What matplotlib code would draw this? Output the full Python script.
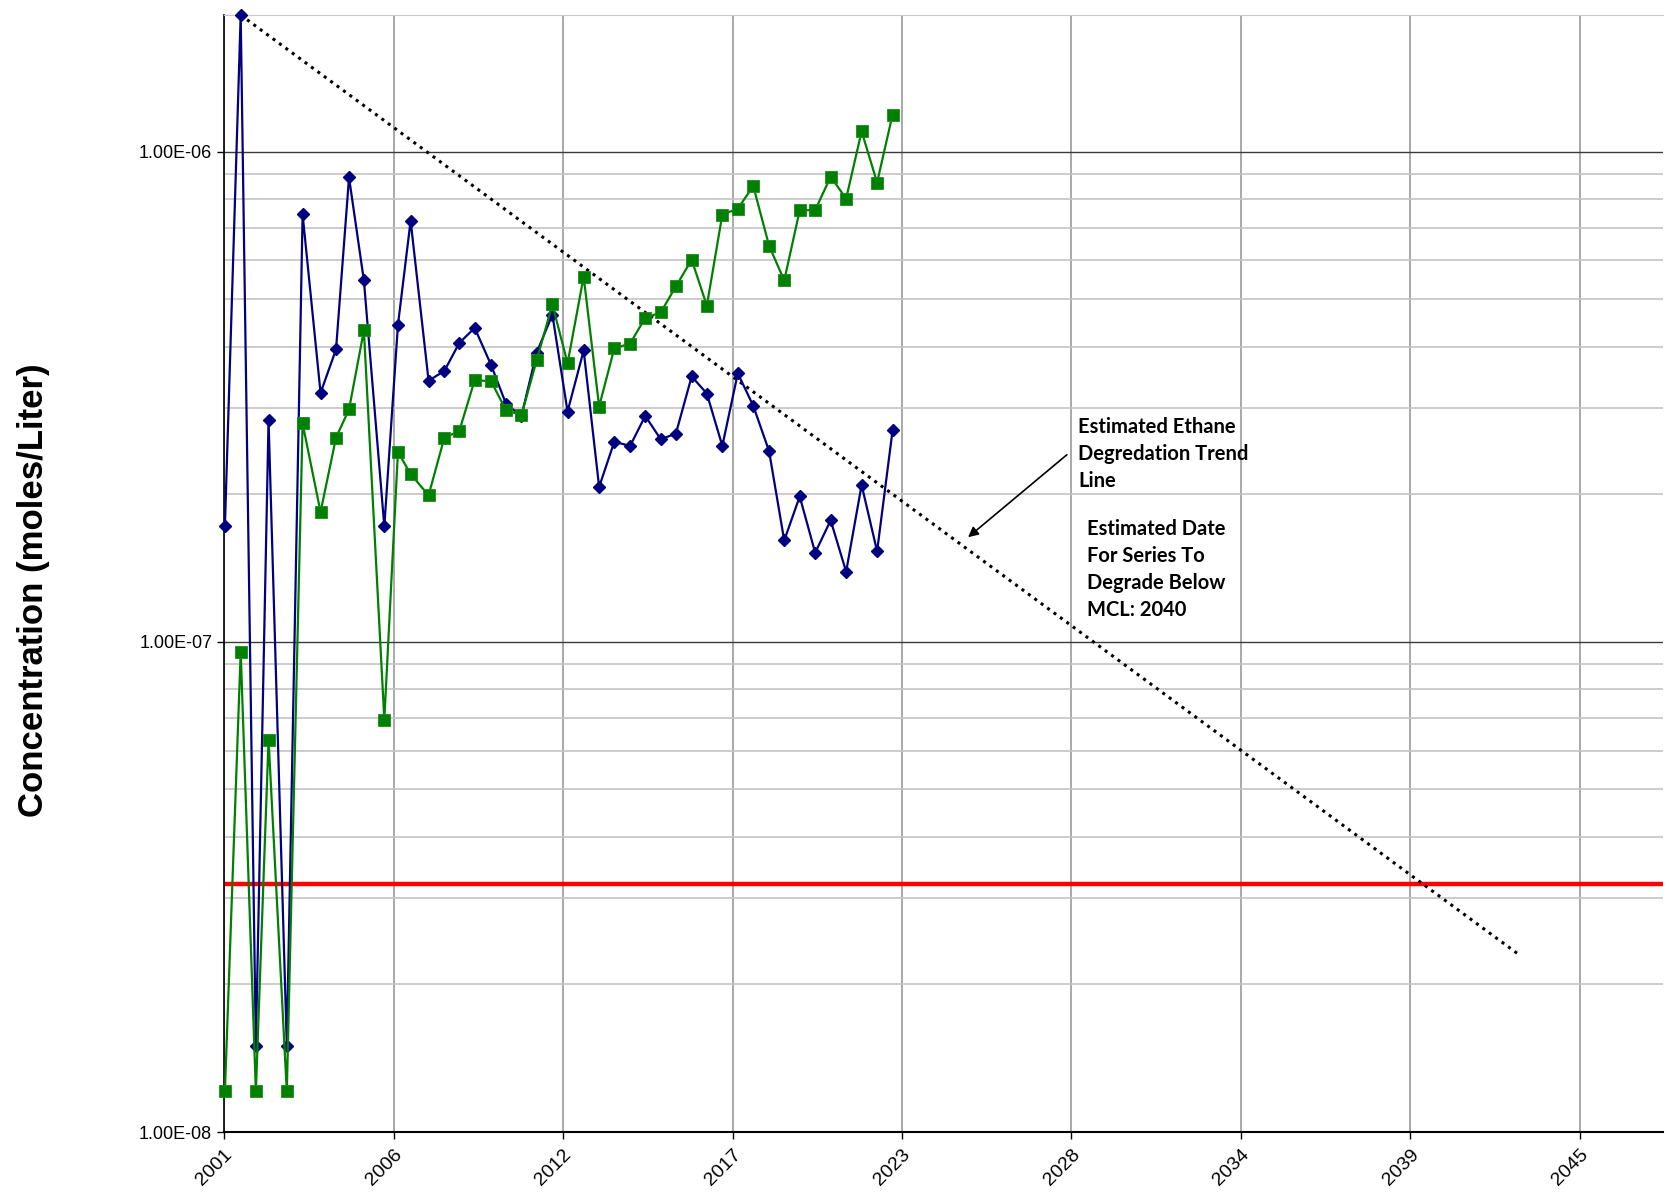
import numpy as np #number functions
import matplotlib
matplotlib.use('Agg')
import matplotlib.pyplot as plt #plotting functions
from matplotlib.ticker import FixedLocator, LogLocator, NullFormatter, FuncFormatter

# sampling dates as decimal years (roughly twice a year)
years = [2001.33, 2001.84, 2002.33, 2002.74, 2003.33, 2003.84, 2004.42, 2004.92, 2005.34, 2005.82,
         2006.48, 2006.92, 2007.33, 2007.91, 2008.42, 2008.90, 2009.40, 2009.93, 2010.41, 2010.91,
         2011.40, 2011.91, 2012.40, 2012.92, 2013.42, 2013.91, 2014.42, 2014.91, 2015.41, 2015.90,
         2016.41, 2016.90, 2017.40, 2017.90, 2018.40, 2018.91, 2019.40, 2019.90, 2020.40, 2020.90,
         2021.40, 2021.90, 2022.40, 2022.90]

# blue series (diamonds), moles/L
blue_vals = [1.72e-7, 1.90e-6, 1.50e-8, 2.83e-7, 1.50e-8, 7.45e-7, 3.22e-7, 3.95e-7, 8.86e-7, 5.46e-7,
             1.72e-7, 4.43e-7, 7.23e-7, 3.41e-7, 3.57e-7, 4.07e-7, 4.37e-7, 3.67e-7, 3.06e-7, 2.89e-7,
             3.89e-7, 4.65e-7, 2.95e-7, 3.93e-7, 2.07e-7, 2.56e-7, 2.51e-7, 2.89e-7, 2.59e-7, 2.66e-7,
             3.48e-7, 3.21e-7, 2.51e-7, 3.53e-7, 3.03e-7, 2.45e-7, 1.61e-7, 1.98e-7, 1.52e-7, 1.77e-7,
             1.39e-7, 2.09e-7, 1.53e-7, 2.70e-7]

# green series (squares), moles/L
green_vals = [1.21e-8, 9.54e-8, 1.21e-8, 6.32e-8, 1.21e-8, 2.79e-7, 1.84e-7, 2.61e-7, 2.98e-7, 4.32e-7,
              6.94e-8, 2.44e-7, 2.20e-7, 1.99e-7, 2.61e-7, 2.69e-7, 3.42e-7, 3.40e-7, 2.97e-7, 2.90e-7,
              3.75e-7, 4.88e-7, 3.70e-7, 5.56e-7, 3.02e-7, 3.97e-7, 4.06e-7, 4.58e-7, 4.70e-7, 5.31e-7,
              6.02e-7, 4.85e-7, 7.44e-7, 7.65e-7, 8.51e-7, 6.43e-7, 5.46e-7, 7.59e-7, 7.60e-7, 8.89e-7,
              8.02e-7, 1.10e-6, 8.65e-7, 1.19e-6]

# degradation trend line end points
trend_years = [2001.84, 2043.1]
trend_vals = [1.90e-6, 2.31e-8]

mcl = 3.2e-8 #MCL level (red line)

tick_years = [2001.30, 2006.78, 2012.25, 2017.73, 2023.20, 2028.68, 2034.16, 2039.63, 2045.11]
tick_labels = ['2001', '2006', '2012', '2017', '2023', '2028', '2034', '2039', '2045']

plt.rcParams['font.family'] = ['Liberation Sans', 'DejaVu Sans']

fig = plt.figure(figsize=(16.69, 11.93), dpi=100)
ax = fig.add_axes([0.1342, 0.0511, 0.8622, 0.9363])

ax.set_yscale('log')
ax.set_xlim(2001.3, 2047.79)
ax.set_ylim(1e-8, 1.9e-6)

# grid lines
ax.yaxis.set_major_locator(FixedLocator([1e-8, 1e-7, 1e-6]))
ax.yaxis.set_minor_locator(LogLocator(base=10, subs=np.arange(2, 10), numticks=20))
ax.yaxis.set_minor_formatter(NullFormatter())
ax.yaxis.set_major_formatter(FuncFormatter(lambda v, p: '%.2E' % v))
ax.grid(which='minor', axis='y', color='#c4c4c4', lw=1.2, zorder=0)
ax.grid(which='major', axis='y', color='#3a3a3a', lw=1.0, zorder=0)
ax.set_xticks(tick_years)
ax.set_xticklabels(tick_labels, rotation=45, ha='right', rotation_mode='anchor')
ax.grid(which='major', axis='x', color='#9a9a9a', lw=1.2, zorder=0)
ax.set_axisbelow(True)

ax.tick_params(axis='both', which='major', labelsize=13, direction='out', length=5, width=1, color='black')
ax.tick_params(axis='y', which='minor', length=0)
ax.tick_params(axis='x', pad=5, labelsize=14)

ax.spines['right'].set_visible(False)
ax.spines['top'].set_color('#c8c8c8')
ax.spines['left'].set_linewidth(1.2)
ax.spines['bottom'].set_linewidth(1.5)

# MCL line
ax.axhline(mcl, color='#ff0000', lw=3.2, zorder=2)

# trend line
ax.plot(trend_years, trend_vals, color='black', ls=(0, (1, 1.6)), lw=2.2, zorder=3)

# data series
ax.plot(years, blue_vals, color='#000080', lw=1.6, marker='D', markersize=6.4, clip_on=False, zorder=4)
ax.plot(years, green_vals, color='#008000', lw=1.6, marker='s', markersize=8.5,
        markeredgecolor='#1a8c1a', markeredgewidth=0.6, clip_on=False, zorder=5)

ax.set_ylabel('Concentration (moles/Liter)', fontsize=25, fontweight='bold')
ax.yaxis.set_label_coords(-0.121, 0.485)

# annotations
ax.annotate('', xy=(0.5156, 0.5309), xytext=(0.5872, 0.6079), xycoords='axes fraction',
            arrowprops=dict(arrowstyle='-|>', color='black', lw=1.2, mutation_scale=15))
ax.text(0.5935, 0.6405, 'Estimated Ethane\nDegredation Trend\nLine', transform=ax.transAxes,
        ha='left', va='top', fontsize=14.5, fontweight='bold', family=['Lato', 'DejaVu Sans'], linespacing=1.45)
ax.text(0.5997, 0.549, 'Estimated Date\nFor Series To\nDegrade Below\nMCL: 2040', transform=ax.transAxes,
        ha='left', va='top', fontsize=14.5, fontweight='bold', family=['Lato', 'DejaVu Sans'], linespacing=1.45)

plt.savefig('out.png', dpi=100) #export as png
